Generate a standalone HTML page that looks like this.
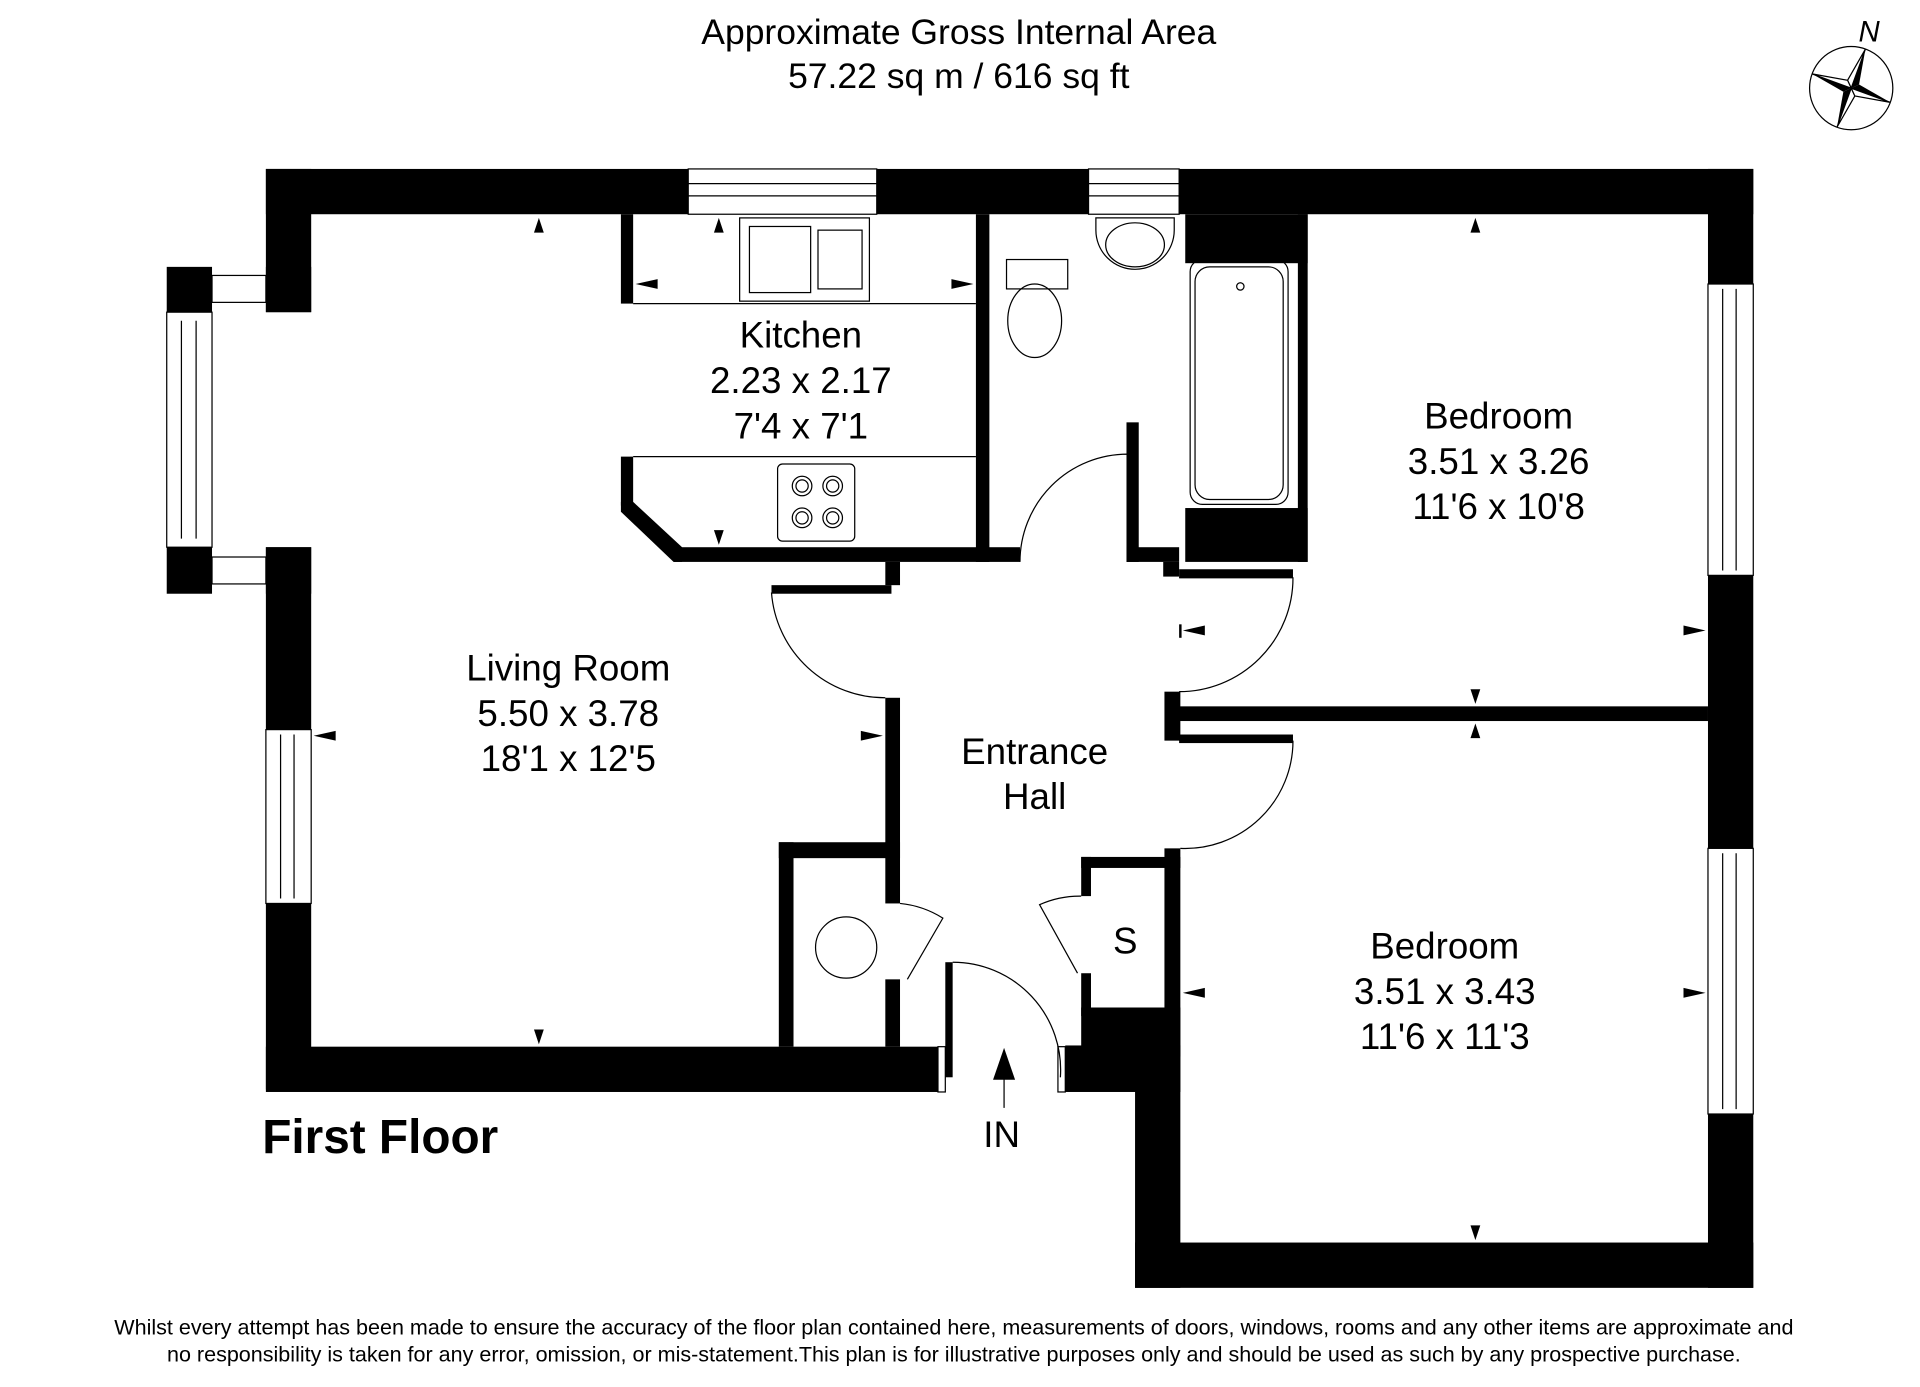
<!DOCTYPE html>
<html><head><meta charset="utf-8"><style>html,body{margin:0;padding:0;background:#fff}svg{display:block}text{font-family:"Liberation Sans",sans-serif;fill:#000}</style></head><body>
<svg width="1920" height="1387" viewBox="0 0 1568 1133" xmlns="http://www.w3.org/2000/svg">
<text x="783" y="36" font-size="29" text-anchor="middle">Approximate Gross Internal Area</text>
<text x="783" y="72" font-size="29" text-anchor="middle">57.22 sq m / 616 sq ft</text>
<!-- compass -->
<g transform="translate(1512,72)">
<circle r="34" fill="none" stroke="#000" stroke-width="1"/>
<g transform="rotate(20)">
<polygon points="0,-34 5,-5 0,0" fill="#000"/><polygon points="0,-34 -5,-5 0,0" fill="#fff" stroke="#000"/>
<polygon points="0,34 -5,5 0,0" fill="#000"/><polygon points="0,34 5,5 0,0" fill="#fff" stroke="#000"/>
<polygon points="-34,0 -5,5 0,0" fill="#000"/><polygon points="-34,0 -5,-5 0,0" fill="#fff" stroke="#000"/>
<polygon points="34,0 5,-5 0,0" fill="#000"/><polygon points="34,0 5,5 0,0" fill="#fff" stroke="#000"/>
</g>
<text x="6" y="-38" font-size="24" font-style="italic">N</text>
</g>
<g fill="#000">
<rect x="217" y="138" width="345" height="37"/>
<rect x="716" y="138" width="173" height="37"/>
<rect x="963" y="138" width="469" height="37"/>
<rect x="217" y="138" width="37" height="117"/>
<rect x="136" y="218" width="37" height="37"/><rect x="217" y="218" width="37" height="37"/>
<rect x="136" y="447" width="37" height="38"/><rect x="217" y="447" width="37" height="38"/>
<rect x="217" y="447" width="37" height="149"/>
<rect x="217" y="738" width="37" height="152"/>
<rect x="217" y="855" width="549" height="37"/>
<rect x="1395" y="138" width="37" height="94"/>
<rect x="1395" y="470" width="37" height="223"/>
<rect x="1395" y="910" width="37" height="142"/>
<rect x="927" y="1015" width="505" height="37"/>
<rect x="927" y="854" width="37" height="198"/>
<rect x="870" y="854" width="94" height="38"/>
<rect x="883" y="823" width="81" height="40"/>
<rect x="507" y="175" width="10" height="73"/>
<rect x="507" y="373" width="10" height="40"/>
<polygon points="507,410 517,410 557,447 557,459 550,459 507,418"/>
<rect x="550" y="447" width="283" height="12"/>
<rect x="797" y="175" width="11" height="284"/>
<rect x="723" y="459" width="12" height="19"/>
<rect x="630" y="478" width="98" height="7"/>
<rect x="920" y="345" width="10" height="114"/>
<rect x="920" y="447" width="43" height="12"/>
<rect x="968" y="175" width="100" height="40"/>
<rect x="1060" y="175" width="8" height="284"/>
<rect x="968" y="415" width="100" height="44"/>
<rect x="950" y="459" width="13" height="12"/>
<rect x="963" y="465" width="93" height="7"/>
<rect x="723" y="570" width="12" height="131"/>
<rect x="636" y="688" width="99" height="13"/>
<rect x="636" y="688" width="12" height="167"/>
<rect x="723" y="688" width="12" height="50"/>
<rect x="723" y="800" width="12" height="55"/>
<rect x="772" y="786" width="6" height="94"/>
<rect x="951" y="565" width="13" height="40"/>
<rect x="963" y="577" width="432" height="12"/>
<rect x="963" y="600" width="93" height="7"/>
<rect x="951" y="693" width="13" height="162"/>
<rect x="883" y="700" width="81" height="9"/>
<rect x="883" y="700" width="8" height="32"/>
<rect x="883" y="795" width="8" height="35"/>
</g>
<g fill="#fff" stroke="#000" stroke-width="1">
<rect x="562" y="138" width="154" height="37"/><line x1="562" y1="150" x2="716" y2="150"/><line x1="562" y1="160" x2="716" y2="160"/>
<rect x="889" y="138" width="74" height="37"/><line x1="889" y1="150" x2="963" y2="150"/><line x1="889" y1="160" x2="963" y2="160"/>
<rect x="136" y="255" width="37" height="192"/><line x1="148" y1="262" x2="148" y2="440"/><line x1="160" y1="262" x2="160" y2="440"/>
<rect x="173" y="225" width="44" height="22"/><rect x="173" y="455" width="44" height="22"/>
<rect x="217" y="596" width="37" height="142"/><line x1="229" y1="600" x2="229" y2="734"/><line x1="240" y1="600" x2="240" y2="734"/>
<rect x="1395" y="232" width="37" height="238"/><line x1="1407" y1="236" x2="1407" y2="466"/><line x1="1418" y1="236" x2="1418" y2="466"/>
<rect x="1395" y="693" width="37" height="217"/><line x1="1407" y1="697" x2="1407" y2="906"/><line x1="1418" y1="697" x2="1418" y2="906"/>
<rect x="766" y="855" width="6" height="37"/><rect x="864" y="855" width="6" height="37"/>
</g>
<g fill="none" stroke="#000" stroke-width="1">
<line x1="517" y1="248" x2="797" y2="248"/><line x1="517" y1="373" x2="797" y2="373"/>
<rect x="604" y="178" width="106" height="68"/><rect x="612" y="185" width="50" height="54"/><rect x="668" y="188" width="36" height="48"/>
<rect x="635" y="379" width="63" height="63" rx="4"/>
<circle cx="655" cy="397" r="8"/><circle cx="680" cy="397" r="8"/><circle cx="655" cy="423" r="8"/><circle cx="680" cy="423" r="8"/>
<circle cx="655" cy="397" r="5"/><circle cx="680" cy="397" r="5"/><circle cx="655" cy="423" r="5"/><circle cx="680" cy="423" r="5"/>
<path d="M895,178 h64 v10 a32,32 0 0 1 -64,0 z"/><ellipse cx="927" cy="200" rx="24" ry="18"/>
<rect x="822" y="212" width="50" height="24"/><ellipse cx="845" cy="262" rx="22" ry="30"/>
<rect x="972" y="212" width="80" height="200" rx="10"/><rect x="976" y="218" width="72" height="190" rx="12"/><circle cx="1013" cy="234" r="3"/>
<path d="M833,459 a88,88 0 0 1 88,-88 v88"/>
<path d="M630,484 a93,93 0 0 0 93,86"/>
<path d="M963,472 h93 a93,93 0 0 1 -93,93"/>
<path d="M1056,605 a88,88 0 0 1 -92,88"/>
<path d="M778,786 a88,88 0 0 1 88,94"/>
<path d="M735,738 a80,80 0 0 1 35,12 L741,800"/>
<path d="M883,732 a80,80 0 0 0 -34,7 L880,795"/>
<circle cx="691" cy="774" r="25"/>
<line x1="820" y1="878" x2="820" y2="905"/>
</g>
<g fill="#000">
<polygon points="440,178 436,190 444,190"/><polygon points="440,853 436,841 444,841"/>
<polygon points="256,601 274,597 274,605"/><polygon points="721,601 703,597 703,605"/>
<polygon points="519,232 537,228 537,236"/><polygon points="795,232 777,228 777,236"/>
<polygon points="587,178 583,190 591,190"/><polygon points="587,445 583,433 591,433"/>
<polygon points="1205,178 1201,190 1209,190"/><polygon points="1205,575 1201,563 1209,563"/>
<polygon points="966,515 984,511 984,519"/><rect x="963" y="510" width="2" height="11"/>
<polygon points="1393,515 1375,511 1375,519"/>
<polygon points="1205,591 1201,603 1209,603"/><polygon points="1205,1013 1201,1001 1209,1001"/>
<polygon points="966,811 984,807 984,815"/><polygon points="1393,811 1375,807 1375,815"/>
<polygon points="820,856 811,882 829,882"/>
</g>
<g font-size="30" text-anchor="middle">
<text x="654" y="284">Kitchen</text><text x="654" y="321">2.23 x 2.17</text><text x="654" y="358">7'4 x 7'1</text>
<text x="464" y="556">Living Room</text><text x="464" y="593">5.50 x 3.78</text><text x="464" y="630">18'1 x 12'5</text>
<text x="845" y="624">Entrance</text><text x="845" y="661">Hall</text>
<text x="1224" y="350">Bedroom</text><text x="1224" y="387">3.51 x 3.26</text><text x="1224" y="424">11'6 x 10'8</text>
<text x="1180" y="783">Bedroom</text><text x="1180" y="820">3.51 x 3.43</text><text x="1180" y="857">11'6 x 11'3</text>
<text x="919" y="779">S</text>
<text x="818" y="937">IN</text>
</g>
<text x="214" y="942" font-size="39" font-weight="bold">First Floor</text>
<text x="779" y="1090" font-size="17.6" text-anchor="middle">Whilst every attempt has been made to ensure the accuracy of the floor plan contained here, measurements of doors, windows, rooms and any other items are approximate and</text>
<text x="779" y="1112" font-size="17.6" text-anchor="middle">no responsibility is taken for any error, omission, or mis-statement.This plan is for illustrative purposes only and should be used as such by any prospective purchase.</text>
</svg>
</body></html>
